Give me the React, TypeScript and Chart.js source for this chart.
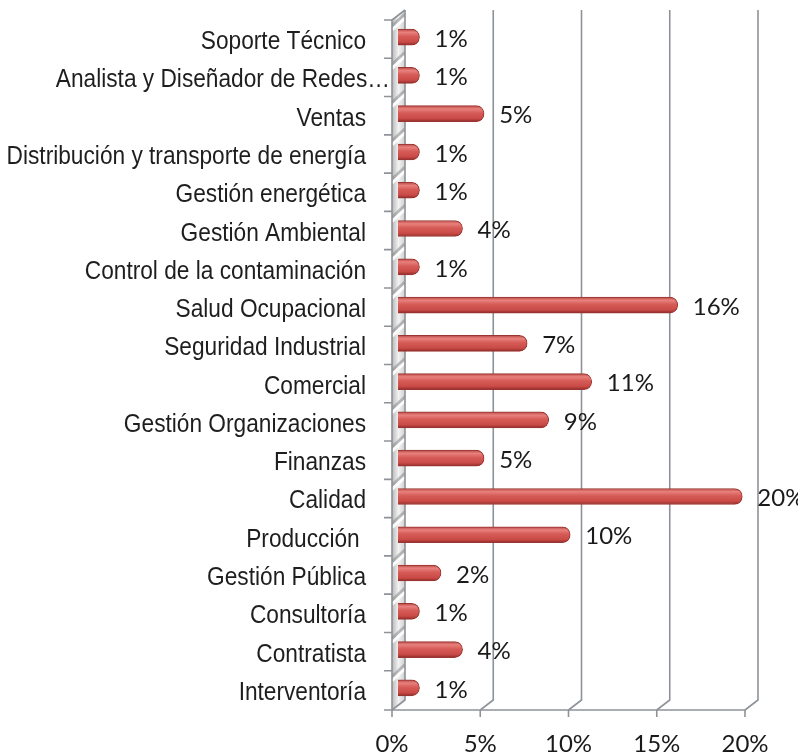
import { useEffect, useRef } from 'react';
import { Chart, registerables } from 'chart.js';

Chart.register(...registerables);

const categories = [
  'Soporte Técnico',
  'Analista y Diseñador de Redes…',
  'Ventas',
  'Distribución y transporte de energía',
  'Gestión energética',
  'Gestión Ambiental',
  'Control de la contaminación',
  'Salud Ocupacional',
  'Seguridad Industrial',
  'Comercial',
  'Gestión Organizaciones',
  'Finanzas',
  'Calidad',
  'Producción ',
  'Gestión Pública',
  'Consultoría',
  'Contratista',
  'Interventoría',
];

const shares = [1.22, 1.22, 4.88, 1.22, 1.22, 3.66, 1.22, 15.85, 7.32, 10.98, 8.54, 4.88, 19.51, 9.76, 2.44, 1.22, 3.66, 1.22];

const valueLabels = ['1%', '1%', '5%', '1%', '1%', '4%', '1%', '16%', '7%', '11%', '9%', '5%', '20%', '10%', '2%', '1%', '4%', '1%'];

const xTicks = [0, 5, 10, 15, 20];

const DX_BACK = 7;
const DX_FRONT = -6;
const DY_BACK = -10;
const GRID = '#8e9399';

const frame3d = {
  id: 'frame3d',
  beforeDatasetsDraw(chart: any) {
    const { ctx, chartArea: a, scales } = chart;
    const x = scales.x;
    const y = scales.y;
    const floorF = a.bottom + 3;
    const floorB = floorF + DY_BACK;
    const topB = a.top - 8;
    const topF = topB - DY_BACK;
    const x0 = x.getPixelForValue(0);
    const wl = x0 + DX_FRONT;
    const wr = x0 + DX_BACK;
    ctx.save();
    // side wall
    const g = ctx.createLinearGradient(wl, 0, wr, 0);
    g.addColorStop(0, '#b8b8b8');
    g.addColorStop(0.5, '#f2f2f2');
    g.addColorStop(1, '#d0d0d0');
    ctx.beginPath();
    ctx.moveTo(wl, topF);
    ctx.lineTo(wr, topB);
    ctx.lineTo(wr, floorB);
    ctx.lineTo(wl, floorF);
    ctx.closePath();
    ctx.fillStyle = g;
    ctx.fill();
    ctx.save();
    ctx.clip();
    for (let i = 0; i <= categories.length; i++) {
      const py = y.getPixelForValue(i - 0.5);
      ctx.strokeStyle = 'rgba(120,120,120,0.45)';
      ctx.lineWidth = 3;
      ctx.beginPath();
      ctx.moveTo(wl, py + 8);
      ctx.lineTo(wr, py - 4);
      ctx.stroke();
      ctx.strokeStyle = 'rgba(255,255,255,0.9)';
      ctx.beginPath();
      ctx.moveTo(wl, py + 12);
      ctx.lineTo(wr, py);
      ctx.stroke();
    }
    ctx.restore();

    ctx.strokeStyle = GRID;
    ctx.lineWidth = 1.6;
    xTicks.forEach((v) => {
      const px = x.getPixelForValue(v);
      ctx.beginPath();
      ctx.moveTo(px + DX_BACK, topB);
      ctx.lineTo(px + DX_BACK, floorB);
      ctx.lineTo(px + DX_FRONT, floorF);
      ctx.stroke();
      ctx.beginPath();
      ctx.moveTo(px + DX_FRONT, floorF);
      ctx.lineTo(px + DX_FRONT, floorF + 7);
      ctx.stroke();
    });
    ctx.beginPath();
    ctx.moveTo(wl - 8, floorF);
    ctx.lineTo(x.getPixelForValue(20) + DX_FRONT, floorF);
    ctx.stroke();
    ctx.beginPath();
    ctx.moveTo(wl, floorF);
    ctx.lineTo(wl, topF);
    ctx.lineTo(wr, topB);
    ctx.stroke();
    ctx.beginPath();
    for (let i = 0; i < categories.length; i++) {
      const py = y.getPixelForValue(i - 0.5) + 2;
      ctx.moveTo(wl - 8, py);
      ctx.lineTo(wl, py);
    }
    ctx.stroke();

    // category labels (slightly tall Arial-like text)
    ctx.font = '22.7px "Liberation Sans", Arial, sans-serif';
    ctx.fillStyle = '#1e1e1e';
    ctx.textAlign = 'right';
    ctx.textBaseline = 'alphabetic';
    categories.forEach((label, i) => {
      const py = y.getPixelForValue(i);
      const right = label.endsWith('…') ? wl - 2 : a.left - 32;
      ctx.save();
      ctx.translate(right, py + 12);
      ctx.scale(1, 1.13);
      ctx.fillText(label, 0, 0);
      ctx.restore();
    });
    ctx.restore();
  },
  afterDatasetsDraw(chart: any) {
    const { ctx } = chart;
    const meta = chart.getDatasetMeta(0);
    ctx.save();
    ctx.font = '24px Lato';
    ctx.fillStyle = '#1a1a1a';
    ctx.textAlign = 'left';
    ctx.textBaseline = 'middle';
    meta.data.forEach((bar: any, i: number) => {
      ctx.fillText(valueLabels[i], bar.x + 15, bar.y + 2);
    });
    ctx.restore();
  },
};

function barFill(c: any) {
  const chart = c.chart;
  const y = chart.scales && chart.scales.y;
  if (!y || c.dataIndex === undefined) return '#d0504d';
  const yc = y.getPixelForValue(c.dataIndex);
  if (!isFinite(yc)) return '#d0504d';
  const g = chart.ctx.createLinearGradient(0, yc - 8, 0, yc + 8);
  g.addColorStop(0, '#b84744');
  g.addColorStop(0.2, '#e8817d');
  g.addColorStop(0.45, '#d65c58');
  g.addColorStop(0.8, '#c94a46');
  g.addColorStop(1, '#8e2b29');
  return g;
}

export default function App() {
  const ref = useRef<HTMLCanvasElement | null>(null);
  useEffect(() => {
    if (!ref.current) return;
    const chart = new Chart(ref.current, {
      type: 'bar',
      data: {
        labels: categories,
        datasets: [
          {
            data: shares,
            backgroundColor: barFill as any,
            borderColor: '#9a3532',
            borderWidth: 1,
            borderRadius: 8,
            borderSkipped: 'start',
            barThickness: 16,
          },
        ],
      },
      plugins: [frame3d],
      options: {
        indexAxis: 'y',
        animation: false,
        responsive: false,
        layout: { padding: { top: 18, right: 55, left: 0, bottom: 0 } },
        plugins: { legend: { display: false }, tooltip: { enabled: false } },
        scales: {
          x: {
            min: 0,
            max: 20,
            grid: { display: false, drawTicks: true, tickLength: 8 },
            border: { display: false },
            ticks: {
              stepSize: 5,
              callback: (v: any) => v + '%',
              font: { family: 'Lato', size: 24 },
              color: '#1a1a1a',
              labelOffset: -6,
              padding: 15,
              maxRotation: 0,
            },
            afterFit: (s: any) => {
              s.height = 49;
            },
          },
          y: {
            grid: { display: false, drawTicks: false },
            border: { display: false },
            ticks: { display: false, autoSkip: false },
            afterFit: (s: any) => {
              s.width = 398;
            },
          },
        },
      },
    });
    return () => chart.destroy();
  }, []);
  return (
    <canvas
      ref={ref}
      width={806}
      height={756}
      style={{ display: 'block', margin: '-8px 0 0 -8px' }}
    />
  );
}
